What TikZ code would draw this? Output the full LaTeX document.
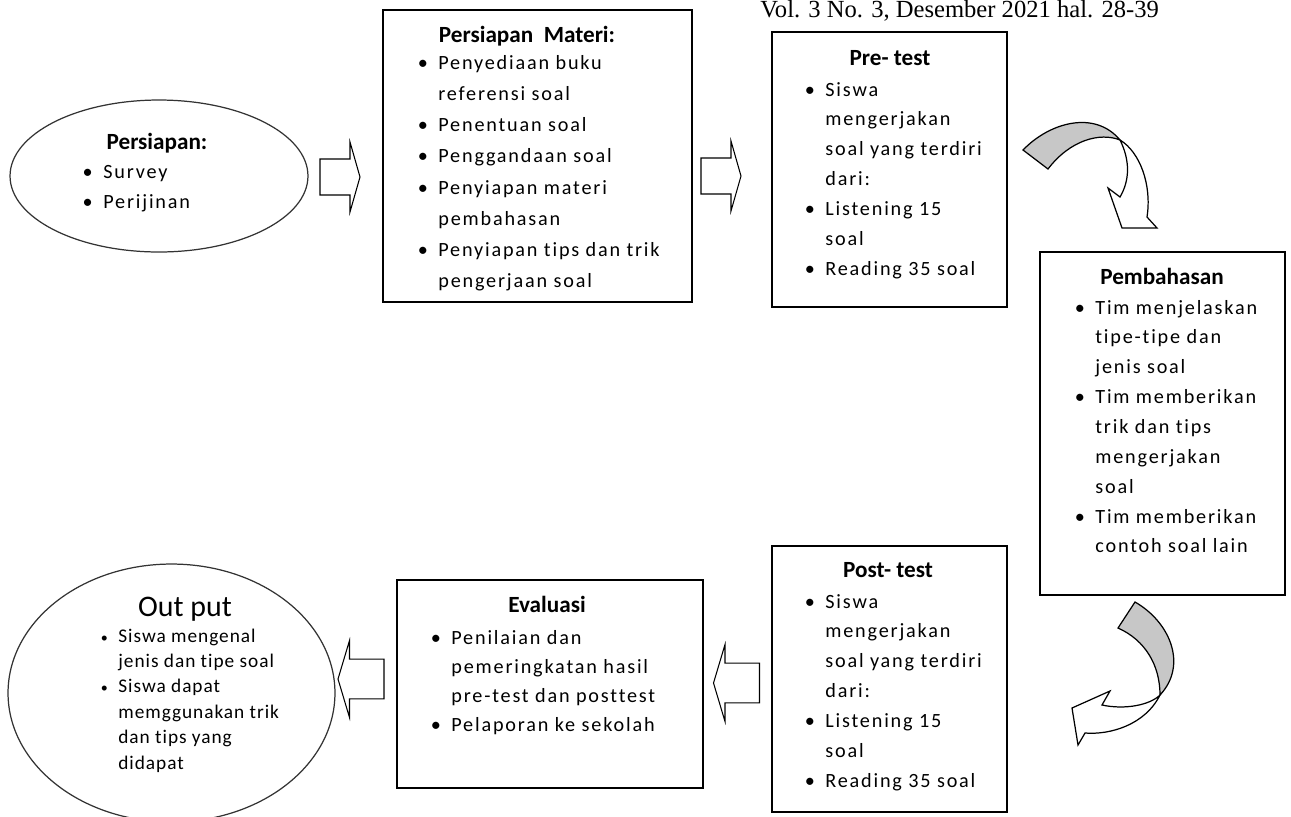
\documentclass[tikz,border=0pt]{standalone}
\usepackage{fontspec}
\setmainfont{Carlito}[Ligatures=NoCommon]
\newfontfamily\bodyfont{Carlito}[LetterSpace=9, Ligatures=NoCommon]
\newfontfamily\narrowfont{Carlito}[LetterSpace=5, Ligatures=NoCommon]
\newfontfamily\headerfont{Liberation Serif}
\usepackage{tikz}
\usetikzlibrary{shapes.geometric}

\newcommand{\lst}[1]{\begin{tabular}[t]{@{}l@{}}#1\end{tabular}}
\newcommand{\bul}{\llap{\textbullet\hspace{6pt}}}
\newcommand{\sbul}{\llap{{\fontsize{8}{8}\selectfont\textbullet}\hspace{6pt}}}

\tikzset{
	box/.style={draw, rectangle, line width=1pt, inner sep=0pt},
	oval/.style={draw=black!80, ellipse, line width=0.7pt, inner sep=0pt},
	head/.style={font=\fontsize{13.2}{15}\selectfont\bfseries, anchor=base, inner sep=0pt},
	items/.style={font=\bodyfont\fontsize{11.5}{17}\selectfont, anchor=base west, inner sep=0pt},
	blockarrow/.pic={
		\draw[line width=0.6pt] (-20,-18) -- (10,-18) -- (10,-35) -- (20,0) -- (10,35) -- (10,18) -- (-20,18) -- cycle;
	},
}

\begin{document}
\begin{tikzpicture}[x=0.02cm, y=-0.02cm]

		\useasboundingbox (0,0) rectangle (1291,816);

		% header %
		\node[font=\headerfont\fontsize{14}{16}\selectfont, anchor=base west, inner sep=0pt] (jurnal) at (760,17) {Vol. 3 No. 3, Desember 2021 hal. 28-39};

		% persiapan %
		\node[oval, minimum width=5.96cm, minimum height=3.04cm] (persiapan) at (159,176) {};
		\node[head] (persiapan-judul) at (157,149) {Persiapan:};
		\node[items, font=\bodyfont\fontsize{11.5}{17.6}\selectfont] (persiapan-isi) at (103,178) {\lst{\bul Survey\\ \bul Perijinan}};

		% persiapan materi %
		\node[box, minimum width=6.18cm, minimum height=5.84cm] (materi) at (537.5,156) {};
		\node[head] (materi-judul) at (527,42) {Persiapan\ \ Materi:};
		\node[items, font=\bodyfont\fontsize{11.5}{17.8}\selectfont] (materi-isi) at (438,69) {\lst{\bul Penyediaan buku\\ referensi soal\\ \bul Penentuan soal\\ \bul Penggandaan soal\\ \bul Penyiapan materi\\ pembahasan\\ \bul Penyiapan tips dan trik\\ pengerjaan soal}};

		% pre-test %
		\node[box, minimum width=4.7cm, minimum height=5.5cm] (pretest) at (889.5,169.5) {};
		\node[head] (pretest-judul) at (890,65) {Pre- test};
		\node[items] (pretest-isi) at (825,96) {\lst{\bul Siswa\\ mengerjakan\\ soal yang terdiri\\ dari:\\ \bul Listening 15\\ soal\\ \bul Reading 35 soal}};

		% pembahasan %
		\node[box, minimum width=4.9cm, minimum height=6.86cm] (bahas) at (1162.5,423.5) {};
		\node[head] (bahas-judul) at (1162,284) {Pembahasan};
		\node[items] (bahas-isi) at (1095,314) {\lst{\bul Tim menjelaskan\\ tipe-tipe dan\\ jenis soal\\ \bul Tim memberikan\\ trik dan tips\\ mengerjakan\\ soal\\ \bul Tim memberikan\\ contoh soal lain}};

		% post-test %
		\node[box, minimum width=4.7cm, minimum height=5.32cm] (posttest) at (889.5,679) {};
		\node[head] (posttest-judul) at (888,577) {Post- test};
		\node[items] (posttest-isi) at (825,608) {\lst{\bul Siswa\\ mengerjakan\\ soal yang terdiri\\ dari:\\ \bul Listening 15\\ soal\\ \bul Reading 35 soal}};

		% evaluasi %
		\node[box, minimum width=6.12cm, minimum height=4.16cm] (evaluasi) at (550,684) {};
		\node[head] (evaluasi-judul) at (547,612) {Evaluasi};
		\node[items, font=\bodyfont\fontsize{11.5}{16.6}\selectfont] (evaluasi-isi) at (451,644) {\lst{\bul Penilaian dan\\ pemeringkatan hasil\\ pre-test dan posttest\\ \bul Pelaporan ke sekolah}};

		% output %
		\node[oval, minimum width=6.54cm, minimum height=5.16cm] (output) at (171.5,693) {};
		\node[head, font=\fontsize{17}{20}\selectfont] (output-judul) at (185,616) {Out put};
		\node[items, font=\narrowfont\fontsize{11}{14.5}\selectfont] (output-isi) at (118,642) {\lst{\sbul Siswa mengenal\\ jenis dan tipe soal\\ \sbul Siswa dapat\\ memggunakan trik\\ dan tips yang\\ didapat}};

		% block arrows %
		\pic at (340,177) {blockarrow};
		\pic at (721,176) {blockarrow};
		\pic[xscale=-1.15, yscale=1.1] at (736.5,683) {blockarrow};
		\pic[xscale=-1.15, yscale=1.1] at (361,679) {blockarrow};

		% curved arrow top %
		\filldraw[fill=black!22, line width=0.7pt] (1023,150) .. controls (1050,122) and (1095,110) .. (1120,140) .. controls (1100,132) and (1070,140) .. (1048,169) -- cycle;
		\filldraw[fill=white, line width=0.7pt] (1120,140) .. controls (1140,152) and (1152,185) .. (1147,217) -- (1157,228) -- (1122,228) -- (1108,188) -- (1120,197) .. controls (1130,180) and (1130,160) .. (1120,140) -- cycle;

		% curved arrow bottom %
		\filldraw[fill=black!22, line width=0.7pt] (1135,602) .. controls (1170,622) and (1188,665) .. (1160,695) .. controls (1160,665) and (1145,640) .. (1118,628) -- cycle;
		\filldraw[fill=white, line width=0.7pt] (1160,695) .. controls (1145,725) and (1110,735) .. (1085,733) -- (1078,745) -- (1072,708) -- (1110,691) -- (1102,705) .. controls (1125,710) and (1150,705) .. (1160,695) -- cycle;

	\end{tikzpicture}
\end{document}
